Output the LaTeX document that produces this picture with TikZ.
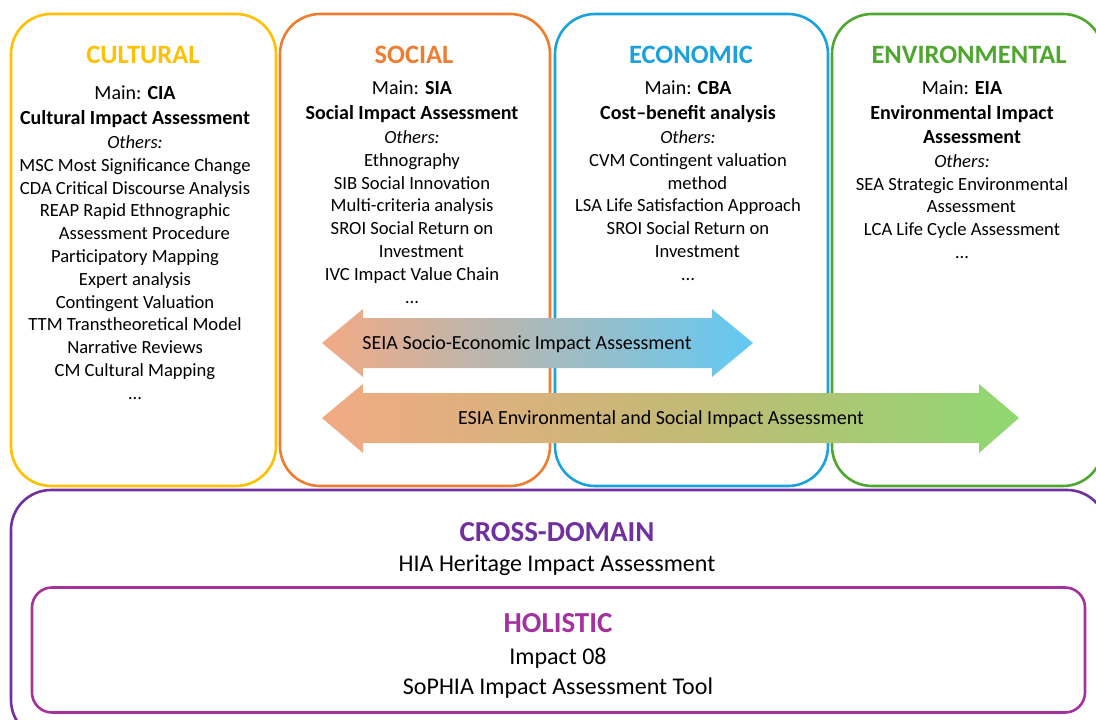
\documentclass[tikz,border=0pt]{standalone}
\usepackage{fontspec}
\setmainfont{Carlito}
\definecolor{cultY}{HTML}{FFC000}
\definecolor{socO}{HTML}{ED7D31}
\definecolor{ecoB}{HTML}{1BA1DC}
\definecolor{envG}{HTML}{4EA72E}
\definecolor{crossP}{HTML}{7030A0}
\definecolor{holiP}{HTML}{A3319E}
\definecolor{arrS}{HTML}{F2AA84}
\definecolor{arrB}{HTML}{62C9F3}
\definecolor{arrG}{HTML}{8FD872}
\newcommand\mainline[1]{{\fontsize{20}{24}\selectfont Main: \textbf{#1}}}
\newcommand\fullname[1]{{\fontsize{20}{24}\selectfont\bfseries #1}}
% hanging indent of a wrapped list entry
\newcommand\lead{\hspace*{1em}}
\begin{document}
\begin{tikzpicture}[x=1pt,y=-1pt,
  areabox/.style={draw, line width=2.6pt, rounded corners=40pt, inner sep=0pt},
  heading/.style={font=\fontsize{26.5}{30}\selectfont\bfseries, inner sep=0pt},
  body/.style={align=center, font=\fontsize{18.6}{22.8}\selectfont, inner sep=0pt, anchor=north},
  bigtitle/.style={font=\fontsize{29}{34}\selectfont\bfseries, inner sep=0pt},
  bigline/.style={font=\fontsize{24}{29}\selectfont, inner sep=0pt, anchor=base},
  arrowtext/.style={font=\fontsize{20}{24}\selectfont, inner sep=0pt, anchor=base}]
\useasboundingbox (0,0) rectangle (1096,720);
\clip (0,0) rectangle (1096,720);

% domain columns
\node[areabox, draw=cultY, minimum width=265pt, minimum height=472pt] (cultural) at (143.5,250) {};
\node[areabox, draw=socO, minimum width=270pt, minimum height=472pt] (social) at (415,250) {};
\node[areabox, draw=ecoB, minimum width=273pt, minimum height=472pt] (economic) at (691.5,250) {};
\node[areabox, draw=envG, minimum width=271pt, minimum height=472pt] (environmental) at (967.5,250) {};

% cross-domain and holistic frames
\node[areabox, draw=crossP, minimum width=1096pt, minimum height=250pt] (cross) at (559,615) {};
\node[areabox, draw=holiP, rounded corners=20pt, minimum width=1053pt, minimum height=125pt] (holistic) at (558.5,650) {};

% column headings
\node[heading, text=cultY] (hcult) at (143,55) {CULTURAL};
\node[heading, text=socO] (hsoc) at (414,55) {SOCIAL};
\node[heading, text=ecoB] (heco) at (691,55) {ECONOMIC};
\node[heading, text=envG] (henv) at (969,55) {ENVIRONMENTAL};

% column contents
\node[body] (bcult) at (135,86) {\mainline{CIA}\\[2pt]
  \fullname{Cultural Impact Assessment}\\[1pt]
  \textit{Others:}\\
  MSC Most Significance Change\\
  CDA Critical Discourse Analysis\\
  REAP Rapid Ethnographic\\
  \lead Assessment Procedure\\
  Participatory Mapping\\
  Expert analysis\\
  Contingent Valuation\\
  TTM Transtheoretical Model\\
  Narrative Reviews\\
  CM Cultural Mapping\\
  \dots};
\node[body] (bsoc) at (412,81) {\mainline{SIA}\\[2pt]
  \fullname{Social Impact Assessment}\\[1pt]
  \textit{Others:}\\
  Ethnography\\
  SIB Social Innovation\\
  Multi-criteria analysis\\
  SROI Social Return on\\
  \lead Investment\\
  IVC Impact Value Chain\\
  \dots};
\node[body] (beco) at (688,81) {\mainline{CBA}\\[2pt]
  \fullname{Cost–benefit analysis}\\[1pt]
  \textit{Others:}\\
  CVM Contingent valuation\\
  \lead method\\
  LSA Life Satisfaction Approach\\
  SROI Social Return on\\
  \lead Investment\\
  \dots};
\node[body] (benv) at (962,81) {\mainline{EIA}\\[2pt]
  \fullname{Environmental Impact}\\[1pt]
  \fullname{\lead Assessment}\\[1pt]
  \textit{Others:}\\
  SEA Strategic Environmental\\
  \lead Assessment\\
  LCA Life Cycle Assessment\\
  \dots};

% double-headed arrows spanning several domains
\shade[left color=arrS, right color=arrB, middle color=arrS!50!arrB]
  (322,343) -- (363,309) -- (363,318) -- (712,318) -- (712,309) -- (753,343)
  -- (712,377) -- (712,368) -- (363,368) -- (363,377) -- cycle;
\shade[left color=arrS, right color=arrG, middle color=arrS!55!arrG!90!brown]
  (322,418) -- (363,384) -- (363,393) -- (979,393) -- (979,384) -- (1019,418)
  -- (979,453) -- (979,443) -- (363,443) -- (363,453) -- cycle;
\node[arrowtext] (seia) at (527,349.5) {SEIA Socio-Economic Impact Assessment};
\node[arrowtext] (esia) at (661,424.5) {ESIA Environmental and Social Impact Assessment};

% cross-domain and holistic texts
\node[bigtitle, text=crossP] (tcross) at (557,532) {CROSS-DOMAIN};
\node[bigline] (hia) at (557,571) {HIA Heritage Impact Assessment};
\node[bigtitle, text=holiP] (tholi) at (558,623) {HOLISTIC};
\node[bigline] (imp08) at (558,664) {Impact 08};
\node[bigline] (sophia) at (558,694) {SoPHIA Impact Assessment Tool};
\end{tikzpicture}
\end{document}
